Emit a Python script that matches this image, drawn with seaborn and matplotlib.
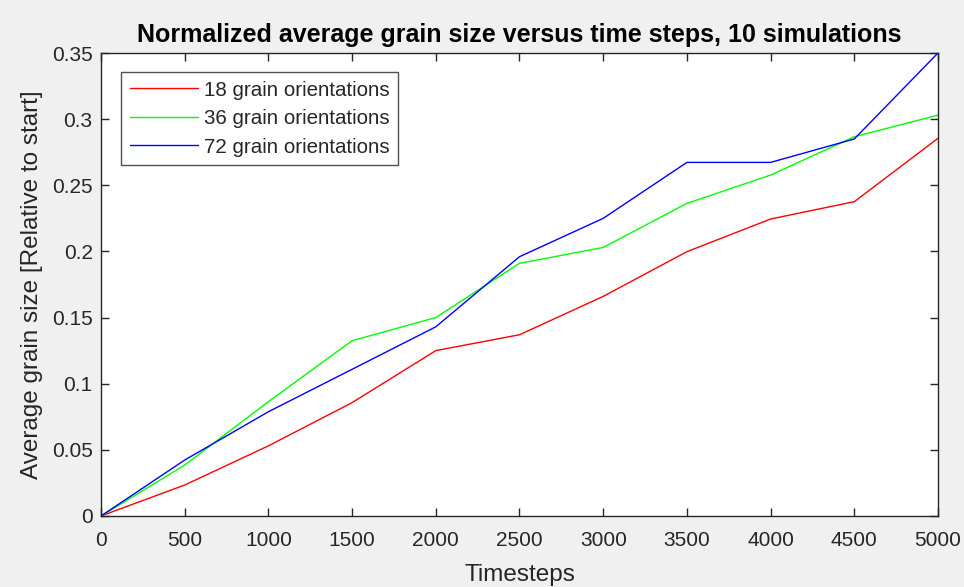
import matplotlib
matplotlib.use("Agg")
import matplotlib.pyplot as plt
import seaborn as sns
import pandas as pd

timesteps = [0, 500, 1000, 1500, 2000, 2500, 3000, 3500, 4000, 4500, 5000]
red_18 = [0, 0.0234, 0.053, 0.0857, 0.125, 0.137, 0.166, 0.1998, 0.2245, 0.2376, 0.2855]
green_36 = [0, 0.0385, 0.0864, 0.1325, 0.150, 0.191, 0.203, 0.2363, 0.2577, 0.2867, 0.303]
blue_72 = [0, 0.0423, 0.0788, 0.1109, 0.143, 0.196, 0.225, 0.2673, 0.2673, 0.285, 0.35]
labels = ["18 grain orientations", "36 grain orientations", "72 grain orientations"]
colors = ["#ff0000", "#00ff00", "#0000ff"]
xticks = [0, 500, 1000, 1500, 2000, 2500, 3000, 3500, 4000, 4500, 5000]
yticks = [0, 0.05, 0.1, 0.15, 0.2, 0.25, 0.3, 0.35]
ytick_labels = ["0", "0.05", "0.1", "0.15", "0.2", "0.25", "0.3", "0.35"]

rows = []
for lab, ser in zip(labels, [red_18, green_36, blue_72]):
    for t, v in zip(timesteps, ser):
        rows.append({"Timesteps": t, "value": v, "series": lab})
df = pd.DataFrame(rows)

sns.set_style("white")
plt.rcParams["font.family"] = ["Liberation Sans", "DejaVu Sans"]

fig = plt.figure(figsize=(9.64, 5.87), dpi=100, facecolor="#f0f0f0")
ax = fig.add_axes([0.1048, 0.121, 0.973 - 0.1048, 0.9097 - 0.121])
ax.set_facecolor("white")

sns.lineplot(data=df, x="Timesteps", y="value", hue="series",
             palette=dict(zip(labels, colors)), linewidth=1.0, ax=ax)

ax.set_xlim(0, 5000)
ax.set_ylim(0, 0.35)
ax.set_xticks(xticks)
ax.set_xticklabels([str(x) for x in xticks])
ax.set_yticks(yticks)
ax.set_yticklabels(ytick_labels)
ax.tick_params(direction="in", length=6, width=1, colors="#262626",
               labelcolor="#262626", labelsize=15, top=True, right=True,
               bottom=True, left=True)
ax.tick_params(axis="x", pad=11)
ax.tick_params(axis="y", pad=6)
for s in ax.spines.values():
    s.set_visible(True)
    s.set_color("#262626")
    s.set_linewidth(1.0)

ax.set_title("Normalized average grain size versus time steps, 10 simulations",
             fontsize=18, fontweight="bold", color="black", pad=8)
ax.set_xlabel("Timesteps", fontsize=17.5, color="#262626", labelpad=10)
ax.set_ylabel("Average grain size [Relative to start]", fontsize=17.5,
              color="#262626", labelpad=6)

leg = ax.legend(loc="upper left", bbox_to_anchor=(0.024, 0.959), fontsize=14.8,
                frameon=True, fancybox=False, edgecolor="#262626",
                handlelength=3.3, borderpad=0.42, labelspacing=0.46,
                handletextpad=0.3, borderaxespad=0)
leg.get_frame().set_linewidth(1.0)
leg.get_frame().set_facecolor("white")
for t in leg.get_texts():
    t.set_color("#262626")

fig.savefig("out.png", dpi=100, facecolor=fig.get_facecolor())
